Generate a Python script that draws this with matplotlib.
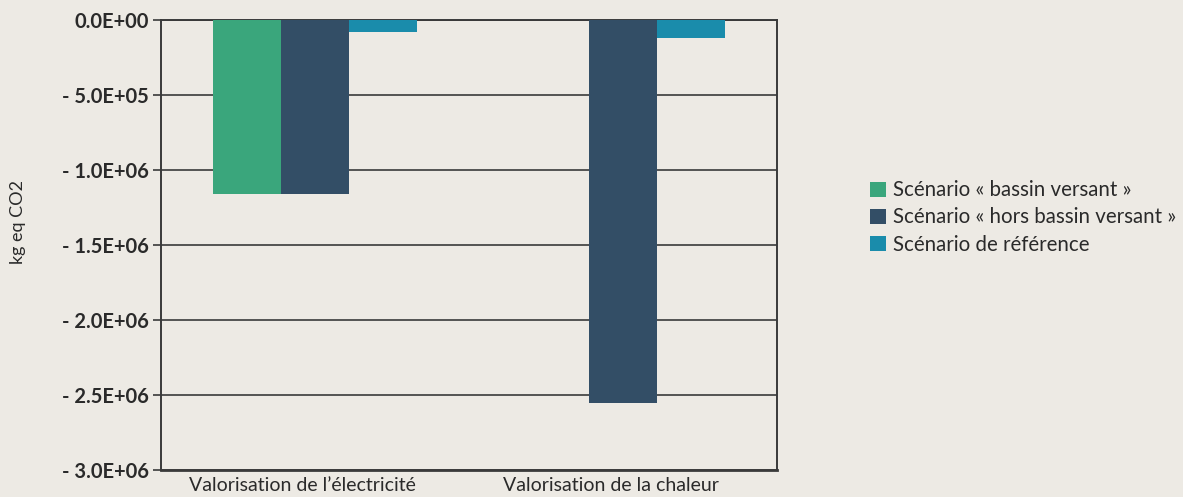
import numpy as np
import matplotlib
matplotlib.use("Agg")
from matplotlib import pyplot as plt
from matplotlib.ticker import FuncFormatter

# data
categories = ["Valorisation de l\u2019électricité", "Valorisation de la chaleur"]
series_names = ["Scénario « bassin versant »",
                "Scénario « hors bassin versant »",
                "Scénario de référence"]
bassin = [-1.16e6, 0.0]
hors_bassin = [-1.16e6, -2.55e6]
reference = [-8.0e4, -1.2e5]
colors = ["#3aa67c", "#334e66", "#1a8cab"]
bg = "#edeae4"

plt.rcParams['font.family'] = ['Lato', 'DejaVu Sans']

fig = plt.figure(figsize=(11.83, 4.97), dpi=100, facecolor=bg)
ax = fig.add_axes([161/1183, 1 - 470/497, 616/1183, 450/497])
ax.set_facecolor(bg)

x = np.arange(len(categories))
w = 0.22
for i, (vals, name) in enumerate(zip([bassin, hors_bassin, reference], series_names)):
    ax.bar(x + (i - 1) * w, vals, w, color=colors[i], label=name, zorder=3)

ax.set_xlim(-0.5, 1.5)
ax.set_ylim(-3.0e6, 0)
yt = np.arange(-3.0e6, 1, 5e5)
ax.set_yticks(yt)
ax.yaxis.grid(True, color="#3a3a3a", linewidth=1.2, zorder=0)


def fmt(v, pos):
    if abs(v) < 1:
        return "0.0E+00"
    e = int(np.floor(np.log10(abs(v))))
    m = abs(v) / 10 ** e
    return "- %.1fE+%02d" % (m, e)


ax.yaxis.set_major_formatter(FuncFormatter(fmt))
ax.set_xticks(x - 0.04)
ax.set_xticklabels(categories)
ax.tick_params(axis='y', length=6, width=1.2, color="#3a3a3a", labelsize=14.5, pad=3)
ax.tick_params(axis='x', length=0, labelsize=14, pad=5)
for lab in ax.get_yticklabels():
    lab.set_fontweight('bold')
    lab.set_color("#2a2a2a")
for lab in ax.get_xticklabels():
    lab.set_color("#2a2a2a")

for side in ['left', 'right', 'top', 'bottom']:
    ax.spines[side].set_color("#3a3a3a")
    ax.spines[side].set_linewidth(1.4)
ax.spines['bottom'].set_linewidth(2)

fig.text(18/1183, 1 - 222/497, "kg eq CO2", rotation=90, va='center', ha='center',
         fontsize=13, color="#2a2a2a")

leg = fig.legend(loc='upper left', bbox_to_anchor=(862/1183, 1 - 172/497),
                 frameon=False, fontsize=14.8, handlelength=0.75, handleheight=0.75,
                 handletextpad=0.35, labelspacing=0.35, borderaxespad=0)
for t in leg.get_texts():
    t.set_color("#2a2a2a")

fig.savefig("out.png", dpi=100, facecolor=bg)
